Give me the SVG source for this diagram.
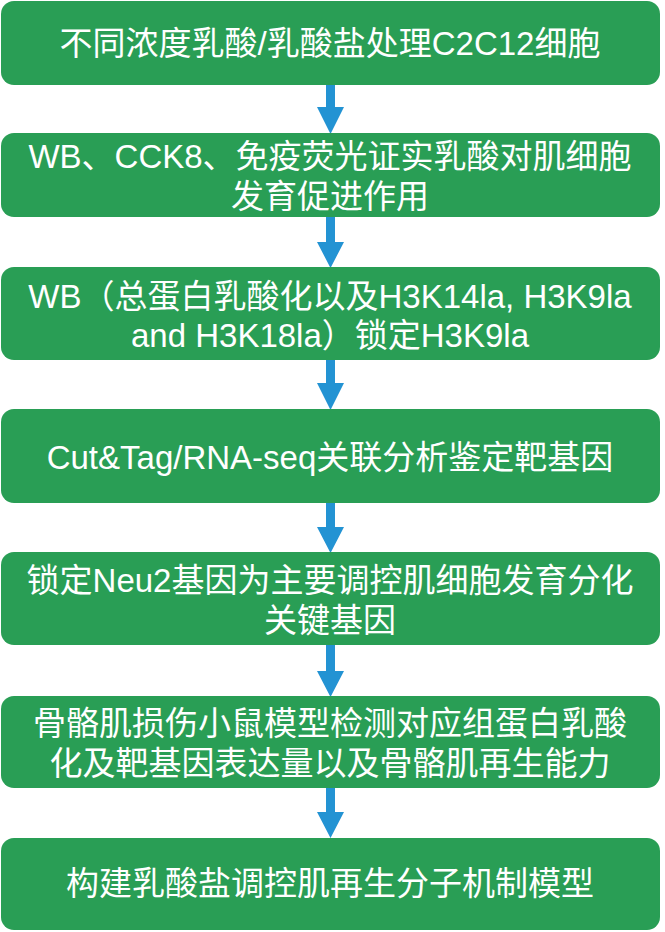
<svg xmlns="http://www.w3.org/2000/svg" width="665" height="932" viewBox="0 0 665 932">
<style>
.box{fill:#299E55}
.t{fill:#fff;font-family:"Liberation Sans","Noto Sans CJK SC",sans-serif;font-size:33px;text-anchor:middle}
.arr{fill:#2393D3}
</style>
<rect width="665" height="932" fill="#fff"/>
<g id="connectors">
<path class="arr" d="M326,85 h9 v22 h9 l-13.5,27 l-13.5,-27 h9 z"/>
<path class="arr" d="M326,217 h9 v25 h9 l-13.5,26 l-13.5,-26 h9 z"/>
<path class="arr" d="M326,360 h9 v23 h9 l-13.5,27 l-13.5,-27 h9 z"/>
<path class="arr" d="M326,503 h9 v24 h9 l-13.5,26 l-13.5,-26 h9 z"/>
<path class="arr" d="M326,645 h9 v26 h9 l-13.5,26 l-13.5,-26 h9 z"/>
<path class="arr" d="M326,788 h9 v24 h9 l-13.5,26 l-13.5,-26 h9 z"/>
</g>
<g id="n1"><rect class="box" x="1" y="1" width="659" height="84" rx="13"/>
<text class="t" x="330" y="55">不同浓度乳酸/乳酸盐处理C2C12细胞</text></g>
<g id="n2"><rect class="box" x="1" y="133" width="659" height="84" rx="13"/>
<text class="t" x="330" y="168">WB、CCK8、免疫荧光证实乳酸对肌细胞</text>
<text class="t" x="330" y="208">发育促进作用</text></g>
<g id="n3"><rect class="box" x="1" y="267" width="659" height="93" rx="13"/>
<text class="t" x="330" y="308">WB（总蛋白乳酸化以及H3K14la, H3K9la</text>
<text class="t" x="330" y="347">and H3K18la）锁定H3K9la</text></g>
<g id="n4"><rect class="box" x="1" y="409" width="659" height="94" rx="13"/>
<text class="t" x="330" y="469">Cut&amp;Tag/RNA-seq关联分析鉴定靶基因</text></g>
<g id="n5"><rect class="box" x="1" y="552" width="659" height="93" rx="13"/>
<text class="t" x="330" y="592">锁定Neu2基因为主要调控肌细胞发育分化</text>
<text class="t" x="330" y="632">关键基因</text></g>
<g id="n6"><rect class="box" x="1" y="696" width="659" height="92" rx="13"/>
<text class="t" x="330" y="735">骨骼肌损伤小鼠模型检测对应组蛋白乳酸</text>
<text class="t" x="330" y="775">化及靶基因表达量以及骨骼肌再生能力</text></g>
<g id="n7"><rect class="box" x="1" y="838" width="659" height="92" rx="13"/>
<text class="t" x="330" y="895">构建乳酸盐调控肌再生分子机制模型</text></g>
</svg>
